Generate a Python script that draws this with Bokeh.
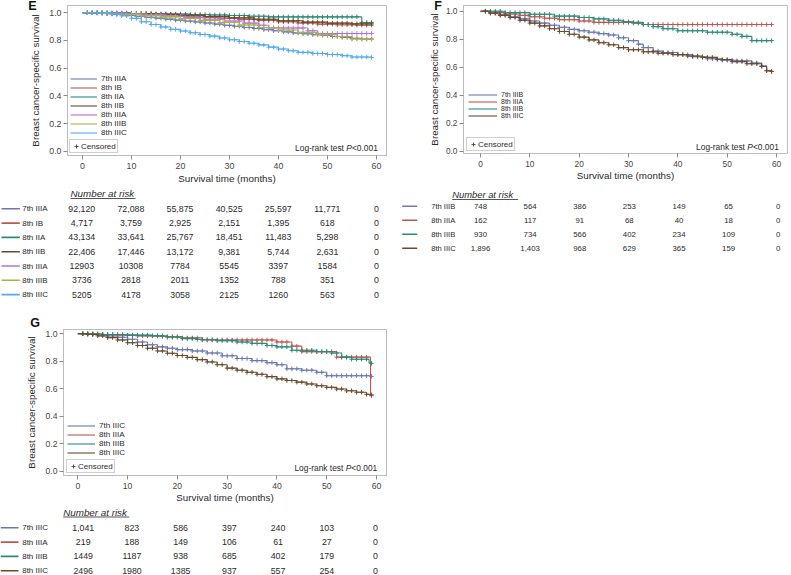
import numpy as np
from bokeh.plotting import figure
from bokeh.models import (Range1d, FixedTicker, PrintfTickFormatter, Legend,
                          LegendItem, Label, ColumnDataSource, GridBox)
from bokeh.layouts import row, column
from bokeh.embed import file_html
from bokeh.resources import INLINE
from bokeh.core.properties import value

# ------------------------------------------------------------------ data
MONTH_TICKS = [0, 10, 20, 30, 40, 50, 60]
SURV_TICKS = [0.0, 0.2, 0.4, 0.6, 0.8, 1.0]
RISK_MONTHS = [0, 10, 20, 30, 40, 50, 60]
CENSOR_MONTHS = [1, 2, 3, 4, 5, 6, 7, 8, 9, 10, 11, 12, 13, 14, 15, 16, 17, 18, 19, 20,
                 21, 22, 23, 24, 25, 26, 27, 28, 29, 30, 31, 32, 33, 34, 35, 36, 37, 38,
                 39, 40, 41, 42, 43, 44, 45, 46, 47, 48, 49, 50, 51, 52, 53, 54, 55, 56,
                 57, 58, 59]

# ---- panel E
E_NAMES = ["7th IIIA", "8th IB", "8th IIA", "8th IIB", "8th IIIA", "8th IIIB", "8th IIIC"]
E_7IIIA_T = [0, 3, 5, 7, 9, 11, 13, 15, 17, 19, 21, 23, 25, 27, 29, 31, 33, 35, 37, 39, 41, 43, 45, 47, 49, 51, 53, 55, 57, 59]
E_7IIIA_S = [1.0, 0.997, 0.993, 0.988, 0.982, 0.975, 0.968, 0.961, 0.954, 0.947, 0.94, 0.933, 0.926, 0.918, 0.91, 0.902, 0.894, 0.886, 0.878, 0.870, 0.862, 0.855, 0.848, 0.842, 0.836, 0.829, 0.822, 0.815, 0.81, 0.81]
E_8IB_T = [0, 4, 8, 12, 16, 20, 24, 28, 32, 36, 40, 44, 48, 52, 56, 59]
E_8IB_S = [1.0, 0.998, 0.994, 0.99, 0.984, 0.976, 0.968, 0.96, 0.952, 0.944, 0.935, 0.926, 0.918, 0.913, 0.91, 0.91]
E_8IIA_T = [0, 6, 10, 14, 18, 22, 26, 30, 34, 38, 57, 59]
E_8IIA_S = [1.0, 0.998, 0.995, 0.992, 0.99, 0.987, 0.984, 0.98, 0.975, 0.97, 0.93, 0.93]
E_8IIB_T = [0, 5, 10, 15, 20, 25, 30, 35, 40, 45, 50, 55, 59]
E_8IIB_S = [1.0, 0.997, 0.993, 0.988, 0.981, 0.972, 0.963, 0.953, 0.942, 0.932, 0.925, 0.92, 0.92]
E_8IIIA_T = [0, 5, 9, 13, 17, 21, 25, 29, 33, 36, 38, 46, 48, 59]
E_8IIIA_S = [1.0, 0.997, 0.992, 0.985, 0.975, 0.965, 0.953, 0.94, 0.925, 0.91, 0.89, 0.87, 0.85, 0.85]
E_8IIIB_T = [0, 4, 8, 12, 16, 20, 24, 28, 32, 36, 40, 44, 48, 52, 55, 59]
E_8IIIB_S = [1.0, 0.995, 0.988, 0.979, 0.97, 0.958, 0.945, 0.93, 0.912, 0.893, 0.875, 0.858, 0.842, 0.828, 0.81, 0.81]
E_8IIIC_T = [0, 6, 8, 10, 12, 14, 16, 18, 20, 22, 24, 26, 28, 30, 32, 34, 36, 38, 40, 42, 44, 47, 50, 53, 55, 59]
E_8IIIC_S = [1.0, 0.99, 0.978, 0.96, 0.935, 0.915, 0.897, 0.88, 0.868, 0.856, 0.843, 0.831, 0.818, 0.805, 0.792, 0.78, 0.768, 0.752, 0.738, 0.726, 0.714, 0.706, 0.698, 0.69, 0.68, 0.677]
E_RISK = [
    ["92,120", "72,088", "55,875", "40,525", "25,597", "11,771", "0"],
    ["4,717", "3,759", "2,925", "2,151", "1,395", "618", "0"],
    ["43,134", "33,641", "25,767", "18,451", "11,483", "5,298", "0"],
    ["22,406", "17,446", "13,172", "9,381", "5,744", "2,631", "0"],
    ["12903", "10308", "7784", "5545", "3397", "1584", "0"],
    ["3736", "2818", "2011", "1352", "788", "351", "0"],
    ["5205", "4178", "3058", "2125", "1260", "563", "0"],
]

# ---- panel F
F_NAMES = ["7th IIIB", "8th IIIA", "8th IIIB", "8th IIIC"]
F_7IIIB_T = [0, 2, 4, 6, 8, 10, 12, 14, 16, 18, 20, 22, 24, 26, 28, 30, 32, 33, 35, 37, 40, 43, 46, 49, 52, 55, 57, 58, 59]
F_7IIIB_S = [1.0, 0.99, 0.975, 0.96, 0.945, 0.93, 0.915, 0.90, 0.885, 0.87, 0.86, 0.85, 0.84, 0.83, 0.81, 0.79, 0.765, 0.74, 0.715, 0.705, 0.69, 0.675, 0.66, 0.65, 0.645, 0.63, 0.61, 0.575, 0.57]
F_8IIIA_T = [0, 2, 5, 8, 10, 13, 16, 20, 23, 33, 59]
F_8IIIA_S = [1.0, 0.99, 0.98, 0.97, 0.96, 0.95, 0.94, 0.93, 0.92, 0.905, 0.905]
F_8IIIB_T = [0, 5, 10, 15, 20, 23, 26, 29, 31, 33, 35, 37, 40, 46, 51, 53, 55, 59]
F_8IIIB_S = [1.0, 0.99, 0.978, 0.965, 0.955, 0.945, 0.935, 0.925, 0.915, 0.905, 0.89, 0.875, 0.86, 0.85, 0.835, 0.82, 0.79, 0.79]
F_8IIIC_T = [0, 2, 4, 6, 8, 10, 12, 14, 16, 18, 20, 22, 24, 26, 28, 30, 33, 36, 39, 42, 45, 48, 51, 54, 57, 58, 59]
F_8IIIC_S = [1.0, 0.985, 0.97, 0.955, 0.935, 0.915, 0.895, 0.875, 0.855, 0.835, 0.815, 0.795, 0.775, 0.76, 0.74, 0.725, 0.71, 0.70, 0.69, 0.68, 0.67, 0.655, 0.64, 0.625, 0.605, 0.575, 0.57]
F_RISK = [
    ["748", "564", "386", "253", "149", "65", "0"],
    ["162", "117", "91", "68", "40", "18", "0"],
    ["930", "734", "566", "402", "234", "109", "0"],
    ["1,896", "1,403", "968", "629", "365", "159", "0"],
]

# ---- panel G
G_NAMES = ["7th IIIC", "8th IIIA", "8th IIIB", "8th IIIC"]
G_7IIIC_T = [0, 3, 6, 8, 10, 12, 14, 16, 18, 20, 23, 26, 29, 32, 35, 38, 40, 42, 45, 48, 50, 59]
G_7IIIC_S = [1.0, 0.995, 0.985, 0.975, 0.96, 0.94, 0.92, 0.905, 0.895, 0.885, 0.875, 0.86, 0.84, 0.82, 0.805, 0.79, 0.775, 0.745, 0.735, 0.72, 0.695, 0.69]
G_8IIIA_T = [0, 4, 8, 12, 17, 21, 25, 40, 43, 45, 52, 58.8, 59]
G_8IIIA_S = [1.0, 0.995, 0.99, 0.985, 0.98, 0.97, 0.955, 0.94, 0.91, 0.87, 0.83, 0.55, 0.55]
G_8IIIB_T = [0, 5, 10, 15, 18, 21, 24, 28, 32, 35, 38, 40, 43, 48, 51, 53, 55, 58.5, 59]
G_8IIIB_S = [1.0, 0.995, 0.99, 0.985, 0.975, 0.965, 0.958, 0.95, 0.94, 0.93, 0.915, 0.905, 0.88, 0.87, 0.86, 0.83, 0.815, 0.785, 0.785]
G_8IIIC_T = [0, 2, 4, 6, 8, 10, 12, 14, 16, 18, 20, 22, 24, 26, 28, 30, 32, 34, 36, 38, 40, 42, 44, 46, 48, 50, 52, 54, 56, 58, 59]
G_8IIIC_S = [1.0, 0.995, 0.985, 0.972, 0.955, 0.935, 0.915, 0.895, 0.875, 0.858, 0.842, 0.828, 0.812, 0.795, 0.775, 0.75, 0.735, 0.72, 0.705, 0.688, 0.672, 0.66, 0.648, 0.635, 0.622, 0.61, 0.598, 0.585, 0.575, 0.56, 0.555]
G_RISK = [
    ["1,041", "823", "586", "397", "240", "103", "0"],
    ["219", "188", "149", "106", "61", "27", "0"],
    ["1449", "1187", "938", "685", "402", "179", "0"],
    ["2496", "1980", "1385", "937", "557", "254", "0"],
]

# ------------------------------------------------------------------ style
C_BLUE = "#6a78b0"
C_RED = "#c0574d"
C_TEAL = "#2b8a7c"
C_BROWN = "#6b4a2c"
C_PURPLE = "#b86ee0"
C_OLIVE = "#a8b24c"
C_LBLUE = "#52aaee"
FONT = "Liberation Sans"
FRAME_C = "#bdbdbd"
TICK_C = "#8a8a8a"
TXT_C = "#2a2a2a"

E_SERIES = list(zip(E_NAMES, [C_BLUE, C_RED, C_TEAL, C_BROWN, C_PURPLE, C_OLIVE, C_LBLUE],
                    [E_7IIIA_T, E_8IB_T, E_8IIA_T, E_8IIB_T, E_8IIIA_T, E_8IIIB_T, E_8IIIC_T],
                    [E_7IIIA_S, E_8IB_S, E_8IIA_S, E_8IIB_S, E_8IIIA_S, E_8IIIB_S, E_8IIIC_S]))
F_SERIES = list(zip(F_NAMES, [C_BLUE, C_RED, C_TEAL, C_BROWN],
                    [F_7IIIB_T, F_8IIIA_T, F_8IIIB_T, F_8IIIC_T],
                    [F_7IIIB_S, F_8IIIA_S, F_8IIIB_S, F_8IIIC_S]))
G_SERIES = list(zip(G_NAMES, [C_BLUE, C_RED, C_TEAL, C_BROWN],
                    [G_7IIIC_T, G_8IIIA_T, G_8IIIB_T, G_8IIIC_T],
                    [G_7IIIC_S, G_8IIIA_S, G_8IIIB_S, G_8IIIC_S]))

# geometry of each block, in page pixels (absolute)
GEO_E = dict(fig=(0, 0, 400, 186), frame=(67, 5, 386, 156), x0=82.0, x60=376.0, y1=12.3, y0=151.7,
             tick_fs=8.8, lab_fs=9.8, ylab_so=5, xlab_so=1, leg_fs=8.0, leg_pos=(3, 18), leg_gw=27,
             cens_pos=(2, 2), cens_idx=3, lr=(377.3, 148.0), lr_fs=8.4,
             letter="E", letter_at=(32, 5))
GEO_F = dict(fig=(400, 0, 791, 187), frame=(463, 5, 787, 153), x0=480.0, x60=776.0, y1=10.7, y0=150.7,
             tick_fs=8.3, lab_fs=9.8, ylab_so=3, xlab_so=0, leg_fs=7.0, leg_pos=(5, 34), leg_gw=29,
             cens_pos=(3, 2), cens_idx=3, lr=(778.3, 146.0), lr_fs=8.4,
             letter="F", letter_at=(437.5, 5))
GEO_G = dict(fig=(0, 302, 400, 505), frame=(63, 329, 386, 476), x0=77.3, x60=376.0, y1=333.3, y0=471.7,
             tick_fs=8.6, lab_fs=9.8, ylab_so=6, xlab_so=0, leg_fs=8.1, leg_pos=(3.7, 18), leg_gw=28,
             cens_pos=(3, 2), cens_idx=3, lr=(376.7, 468.3), lr_fs=8.4,
             letter="G", letter_at=(34.5, 322.5))

TAB_E = dict(fig=(0, 186, 400, 302), x0=81.3, x60=376.0, row0=208.3, pitch=14.3, line=(1, 19.3),
             label_x=21.7, head=(70, 193), head_w=65, fs=8.8, lab_fs=8.0, head_fs=9.8)
TAB_F = dict(fig=(400, 187, 791, 260), x0=480.0, x60=777.7, row0=205.7, pitch=14.0, line=(401.7, 416.7),
             label_x=430.7, head=(451.7, 194), head_w=66, fs=7.8, lab_fs=7.6, head_fs=9.4)
TAB_G = dict(fig=(0, 505, 400, 575), x0=82.7, x60=375.0, row0=527.3, pitch=14.3, line=(0, 18),
             label_x=21.7, head=(62.7, 511.5), head_w=66, fs=8.8, lab_fs=8.0, head_fs=9.8)


def fpx(v):
    return f"{v:.1f}px"


def surv_at(t, s, c):
    i = int(np.searchsorted(np.asarray(t), c, side="right")) - 1
    return s[i]


def bare(p):
    p.outline_line_color = None
    p.grid.visible = False


def make_plot(g, series):
    fx0, fy0, fx1, fy1 = g["fig"]
    W, H = fx1 - fx0, fy1 - fy0
    L, T, R, B = g["frame"]
    pxpm = (g["x60"] - g["x0"]) / 60.0
    pxpu = g["y0"] - g["y1"]
    mx = lambda px: (px - g["x0"]) / pxpm
    my = lambda py: (g["y0"] - py) / pxpu
    p = figure(width=W, height=H,
               x_range=Range1d(mx(L), mx(R)), y_range=Range1d(my(B), my(T)),
               output_backend="svg", toolbar_location=None,
               min_border_left=L - fx0, min_border_right=fx1 - R,
               min_border_top=T - fy0, min_border_bottom=fy1 - B)
    p.frame_align = False
    p.background_fill_color = "white"
    p.border_fill_color = "white"
    p.border_fill_alpha = 0
    p.outline_line_color = FRAME_C
    p.outline_line_width = 1
    p.grid.visible = False
    p.xaxis.ticker = FixedTicker(ticks=MONTH_TICKS)
    p.yaxis.ticker = FixedTicker(ticks=SURV_TICKS)
    p.yaxis.formatter = PrintfTickFormatter(format="%.1f")
    p.xaxis.axis_label = "Survival time (months)"
    p.yaxis.axis_label = "Breast cancer-specific survival"
    for ax in (p.xaxis[0], p.yaxis[0]):
        ax.axis_line_color = FRAME_C
        ax.major_tick_line_color = TICK_C
        ax.major_tick_out = 4
        ax.major_tick_in = 0
        ax.minor_tick_line_color = None
        ax.major_label_text_font = FONT
        ax.major_label_text_font_size = fpx(g["tick_fs"])
        ax.major_label_text_color = "#444444"
        ax.axis_label_text_font = FONT
        ax.axis_label_text_font_size = fpx(g["lab_fs"])
        ax.axis_label_text_font_style = "normal"
        ax.axis_label_text_color = TXT_C
    p.xaxis.major_label_standoff = 3
    p.yaxis.major_label_standoff = 2
    p.xaxis.axis_label_standoff = g["xlab_so"]
    p.yaxis.axis_label_standoff = g["ylab_so"]

    items = []
    marks = []
    for name, color, t, s in series:
        r = p.step(x=t, y=s, mode="after", line_color=color, line_width=1.1)
        cx = [c for c in CENSOR_MONTHS if c <= t[-1]]
        cy = [surv_at(t, s, c) for c in cx]
        m = p.scatter(x=cx, y=cy, marker="cross", size=4.5, line_color=color, line_width=1)
        marks.append(m)
        items.append(LegendItem(label=name, renderers=[r]))

    lx, ly = g["leg_pos"]
    leg = Legend(items=items, location=(round(lx), round(ly)),
                 label_text_font=FONT, label_text_font_size=fpx(g["leg_fs"]), label_text_color=TXT_C,
                 label_height=7, glyph_height=7, glyph_width=g["leg_gw"],
                 label_standoff=4, spacing=0, padding=0, margin=0,
                 border_line_color=None, background_fill_alpha=0)
    p.add_layout(leg)

    cx_, cy_ = g["cens_pos"]
    cleg = Legend(items=[LegendItem(label="Censored", renderers=[marks[g["cens_idx"]]])],
                  location=(cx_, cy_),
                  label_text_font=FONT, label_text_font_size=fpx(8.0), label_text_color=TXT_C,
                  label_height=9, glyph_height=10, glyph_width=10, label_standoff=0,
                  spacing=0, padding=1, margin=0, border_line_color="#a0a0a0",
                  border_line_width=1, background_fill_color="white")
    p.add_layout(cleg)

    # Log-rank annotation (P in italics)
    fs = g["lr_fs"]
    w_num = 3.086 * fs
    w_p = 0.667 * fs
    w_sp = 0.278 * fs
    xr, yr = mx(g["lr"][0]), my(g["lr"][1])
    common = dict(x=xr, y=yr, text_font=FONT, text_font_size=fpx(fs), text_color=TXT_C,
                  text_align="right", text_baseline="middle")
    p.add_layout(Label(text="<0.001", **common))
    p.add_layout(Label(text="P", x_offset=-w_num, text_font_style="italic", **common))
    p.add_layout(Label(text="Log-rank test", x_offset=-(w_num + w_p + w_sp), **common))

    # panel letter, drawn in a transparent overlay figure of the same size in the same grid cell
    lxp, lyp = g["letter_at"]
    lp = figure(width=W, height=H, x_range=Range1d(0, W), y_range=Range1d(H, 0),
                output_backend="svg", toolbar_location=None, min_border=0,
                x_axis_location=None, y_axis_location=None)
    lp.frame_align = False
    bare(lp)
    lp.background_fill_alpha = 0
    lp.border_fill_alpha = 0
    lp.text(x=[lxp - fx0], y=[lyp - fy0], text=[g["letter"]], text_font=value(FONT),
            text_font_size="12.5px", text_font_style="bold", text_color="#111111",
            text_align="center", text_baseline="middle")
    return GridBox(children=[(p, 0, 0), (lp, 0, 0)])


def make_table(g, series, risk):
    fx0, fy0, fx1, fy1 = g["fig"]
    pxpm = (g["x60"] - g["x0"]) / 60.0
    mx = lambda px: (px - g["x0"]) / pxpm
    my = lambda py: (py - g["row0"]) / g["pitch"]
    p = figure(width=fx1 - fx0, height=fy1 - fy0,
               x_range=Range1d(mx(fx0), mx(fx1)), y_range=Range1d(my(fy1), my(fy0)),
               output_backend="svg", toolbar_location=None, min_border=0,
               x_axis_location=None, y_axis_location=None)
    p.frame_align = False
    bare(p)
    p.background_fill_color = "white"
    p.border_fill_color = "white"

    hx, hy = g["head"]
    p.text(x=[mx(hx)], y=[my(hy)], text=["Number at risk"], text_font=value(FONT),
           text_font_size=fpx(g["head_fs"]), text_font_style="italic", text_color=TXT_C,
           text_align="left", text_baseline="middle")
    p.segment(x0=[mx(hx)], y0=[my(hy + 5)], x1=[mx(hx + g["head_w"])], y1=[my(hy + 5)],
              line_color=TXT_C, line_width=0.8)

    for i, ((name, color, _t, _s), vals) in enumerate(zip(series, risk)):
        src = ColumnDataSource(dict(x=RISK_MONTHS, y=[i] * len(RISK_MONTHS), t=vals))
        p.text(x="x", y="y", text="t", source=src, text_font=value(FONT),
               text_font_size=fpx(g["fs"]), text_color=TXT_C, text_align="center",
               text_baseline="middle")
        p.segment(x0=[mx(g["line"][0])], y0=[i], x1=[mx(g["line"][1])], y1=[i],
                  line_color=color, line_width=1.6)
        p.text(x=[mx(g["label_x"])], y=[i], text=[name], text_font=value(FONT),
               text_font_size=fpx(g["lab_fs"]), text_color=TXT_C, text_align="left",
               text_baseline="middle")
    return p


figE = make_plot(GEO_E, E_SERIES)
tabE = make_table(TAB_E, E_SERIES, E_RISK)
figG = make_plot(GEO_G, G_SERIES)
tabG = make_table(TAB_G, G_SERIES, G_RISK)
figF = make_plot(GEO_F, F_SERIES)
tabF = make_table(TAB_F, F_SERIES, F_RISK)

page = row(column(figE, tabE, figG, tabG), column(figF, tabF))
open("out.html", "w").write(file_html(page, INLINE, title="Breast cancer-specific survival"))
